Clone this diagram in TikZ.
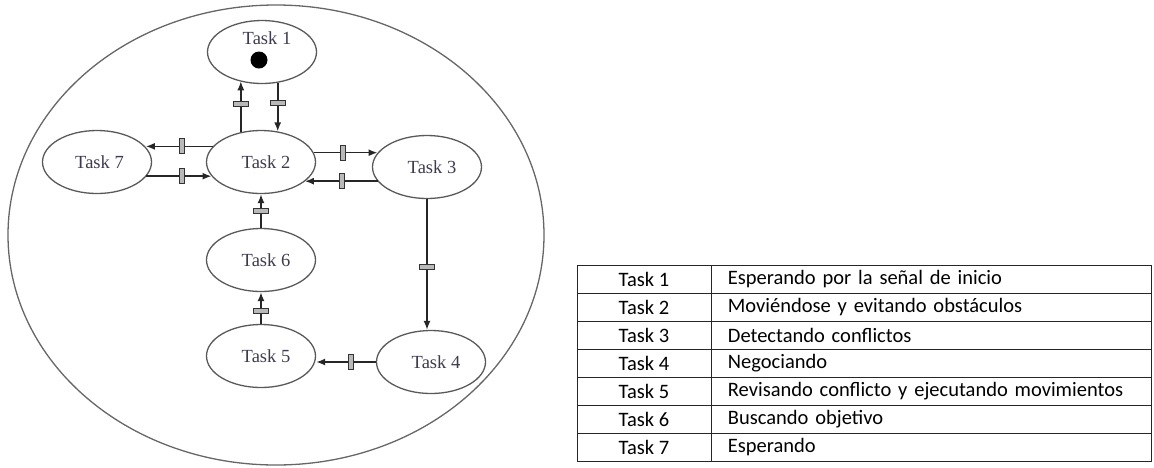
\documentclass[tikz,border=0pt]{standalone}
\usepackage{fontspec}
\setmainfont{Liberation Serif}
\newfontfamily\calibri{Carlito}
\usetikzlibrary{arrows.meta, positioning, shapes.geometric}
\definecolor{tasktext}{HTML}{3C3C4E}

\begin{document}
\begin{tikzpicture}[x = 1pt, y = -1pt,
    task/.style = {shape = ellipse, draw = black!65, line width = 1.3pt,
      minimum width = 109pt, minimum height = 63pt, inner sep = 0pt,
      font = \fontsize{18.5}{20}\selectfont, text = tasktext},
    flow/.style = {draw = black!85, line width = 1.6pt, -{Latex[length = 9pt, width = 7pt]}},
    gate/.style = {shape = rectangle, sloped, draw = black!80, fill = gray!55,
      line width = 0.9pt, minimum width = 5pt, minimum height = 15pt, inner sep = 0pt},
    cell/.style = {shape = rectangle, draw = black!85, line width = 0.9pt,
      minimum height = 28pt, inner sep = 0pt, font = \calibri\fontsize{20.5}{24}\selectfont}]
 \useasboundingbox (0,0) rectangle (1154,467);

 \node[shape = ellipse, draw = black!60, line width = 1.3pt, minimum width = 536pt,
   minimum height = 460pt] (system) at (276,235) {};

 \node[task] (t1) at (262,52) {};
 \node[font = \fontsize{18.5}{20}\selectfont, text = tasktext] (t1name) at (267,38) {Task 1};
 \node[shape = circle, fill = black, minimum size = 17pt, inner sep = 0pt] (start) at (259,60) {};
 \node[task] (t2) at (261,162) {\hspace*{10pt}Task 2};
 \node[task] (t3) at (427,167) {\hspace*{10pt}Task 3};
 \node[task] (t4) at (431,362) {\hspace*{10pt}Task 4};
 \node[task] (t5) at (261,356) {\hspace*{10pt}Task 5};
 \node[task] (t6) at (261,260) {\hspace*{10pt}Task 6};
 \node[task] (t7) at (97,162) {\hspace*{5pt}Task 7};

 \draw[flow] (t2.124) -- node[gate, pos = 0.56] {} (t2.124 |- t1.232);
 \draw[flow] (t1.297) -- node[gate, pos = 0.42] {} (t1.297 |- t2.61);
 \draw[flow] (t2.162) -- node[gate, pos = 0.46] {} (t2.162 -| t7.17);
 \draw[flow] (t7.344) -- node[gate, pos = 0.54] {} (t7.344 -| t2.196);
 \draw[flow] (t2.10) -- node[gate, pos = 0.46] {} (t2.10 -| t3.164);
 \draw[flow] (t3.196) -- node[gate, pos = 0.49] {} (t3.196 -| t2.336);
 \draw[flow] (t3.south) -- node[gate, pos = 0.52] {} (t3.south |- t4.north);
 \draw[flow] (t4.west) -- node[gate, pos = 0.41] {} (t4.west -| t5.east);
 \draw[flow] (t5.north) -- node[gate, pos = 0.4] {} (t5.north |- t6.south);
 \draw[flow] (t6.north) -- node[gate, pos = 0.51] {} (t6.north |- t2.south);

 % legend
 \foreach \n/\what [count = \i] in {1/Esperando por la señal de inicio,
     2/Moviéndose y evitando obstáculos, 3/Detectando conflictos, 4/Negociando,
     5/Revisando conflicto y ejecutando movimientos, 6/Buscando objetivo, 7/Esperando}
  \node[cell, minimum width = 134pt] (key\i) at (644, 251 + 28*\i) {Task \n}
   node[cell, text width = 408pt, inner xsep = 16pt, align = left, right = 0pt of key\i]
   (val\i) {\what};
\end{tikzpicture}
\end{document}
